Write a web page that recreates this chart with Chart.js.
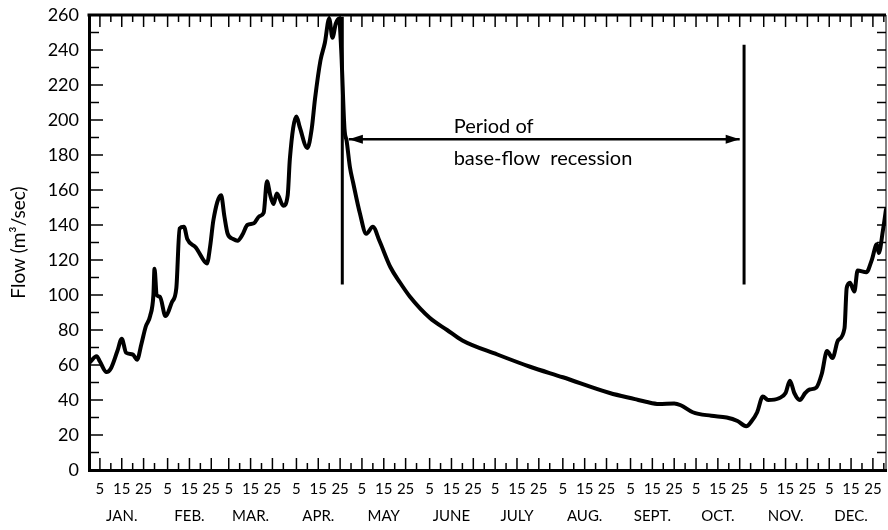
<!DOCTYPE html>
<html lang="en">
<head>
<meta charset="UTF-8">
<title>Base-flow recession hydrograph</title>
<script src="https://cdn.jsdelivr.net/npm/chart.js@4"></script>
<style>
  body { margin: 0; background: #fff; }
  #wrap { width: 888px; height: 530px; }
</style>
</head>
<body>
<div id="wrap"><canvas id="chart"></canvas></div>
<script>
// calendar
const months = ['JAN.', 'FEB.', 'MAR.', 'APR.', 'MAY', 'JUNE', 'JULY', 'AUG.', 'SEPT.', 'OCT.', 'NOV.', 'DEC.'];
const monthStart = [0, 31, 59, 90, 120, 151, 181, 212, 243, 273, 304, 334];
const monthLen = [31, 28, 31, 30, 31, 30, 31, 31, 30, 31, 30, 31];
const dayTicks = [5, 15, 25];

// daily flow (day of year, m3/sec)
const flowDays = [0, 3.5, 5, 8, 10, 13, 15, 17, 20, 22, 24, 26, 28, 29.5, 30, 31, 32.5, 35, 38, 40,
  41.5, 43.5, 45, 49, 53, 54, 55.5, 57, 60.5, 62, 63.5, 66, 68, 70.5, 72.5, 75.5, 78, 80, 81.5, 83,
  84.5, 86, 89, 91, 92, 95, 96.5, 100, 102, 103.5, 106, 108, 110, 111.5, 113, 114.5, 115.5, 117, 118, 119.5,
  121, 124, 127, 130, 133, 138, 142.5, 147, 156, 164, 171, 187, 202, 217, 238.5, 250,
  255, 261, 268, 271, 276.5, 285, 292, 297, 301, 303.5, 306, 308.6, 311, 316, 319, 321, 323, 325.5, 328, 330,
  333, 335.6, 338, 340.5, 343, 346, 347, 348.5, 350.5, 352, 356, 358.5, 360.8, 361.7, 363.6, 365];
const flowValues = [61, 65, 62, 56, 58, 68, 75, 67, 66, 63, 72, 82, 88, 100, 115, 100, 99, 88, 96, 104,
  138, 139, 132, 127, 119, 118, 128, 143, 157, 145, 135, 132, 131, 135, 140, 141, 145, 147, 165, 157,
  152, 158, 151, 157, 178, 202, 196, 184, 195, 212, 234, 244, 258, 247, 255, 258, 240, 195, 188, 173,
  164, 147, 135, 139, 131, 116, 107, 99, 87, 80, 74, 66, 59, 53, 44, 40.5,
  39, 37.7, 38, 37, 33, 31, 30, 28, 25, 28, 33, 42, 40, 41, 44, 51, 44, 40, 44, 46,
  47, 55, 68, 64, 74, 81, 104, 107, 102, 114, 113, 120, 129, 124, 137, 149];

// annotation marks
const markerDays = [116, 300];
const markerLow = [106, 106];
const markerHigh = [259, 243];
const arrowDays = [119, 298];
const arrowFlow = 189;
const noteDay = 167;
const noteFlow = [192.5, 174.5];
const noteLines = ['Period of', 'base-flow  recession'];

const FONT = 'Lato, "Open Sans", sans-serif';

const pts = (xs, ys) => xs.map((x, i) => ({ x: x, y: ys[i] }));

const datasets = [{
  data: pts(flowDays, flowValues),
  borderColor: '#000',
  borderWidth: 4,
  pointRadius: 0,
  cubicInterpolationMode: 'monotone',
  borderJoinStyle: 'round',
  borderCapStyle: 'round'
}];
markerDays.forEach((d, i) => {
  datasets.push({
    data: [{ x: d, y: markerLow[i] }, { x: d, y: markerHigh[i] }],
    borderColor: '#000', borderWidth: 3, pointRadius: 0
  });
});
datasets.push({
  data: [{ x: arrowDays[0], y: arrowFlow }, { x: arrowDays[1], y: arrowFlow }],
  borderColor: '#000', borderWidth: 2.5, pointRadius: 0
});

const extras = {
  id: 'extras',
  afterDatasetsDraw(chart) {
    const { ctx, chartArea: a, scales: { x, y } } = chart;
    const seg = (x1, y1, x2, y2) => { ctx.beginPath(); ctx.moveTo(x1, y1); ctx.lineTo(x2, y2); ctx.stroke(); };
    ctx.save();
    ctx.strokeStyle = '#000';
    ctx.fillStyle = '#000';

    // top frame and right frame
    ctx.lineWidth = 3;
    seg(a.left - 1.5, a.top, a.right, a.top);
    ctx.lineWidth = 1;
    seg(a.right, a.top, a.right, a.bottom);

    // day ticks, inside, bottom and top
    ctx.lineWidth = 1.5;
    monthStart.forEach((s, m) => {
      for (let d = 5; d <= monthLen[m]; d += 5) {
        const px = x.getPixelForValue(s + d);
        const len = d % 10 === 5 ? 12 : 7;
        seg(px, a.bottom, px, a.bottom - len);
        seg(px, a.top, px, a.top + len);
      }
    });

    // flow ticks, inside, left and right
    for (let v = 10; v < 260; v += 10) {
      const py = y.getPixelForValue(v);
      seg(a.left, py, a.left + (v % 20 === 0 ? 14 : 10), py);
      seg(a.right, py, a.right - 9, py);
    }

    // arrow heads
    const ay = y.getPixelForValue(arrowFlow);
    const l = x.getPixelForValue(arrowDays[0]);
    const r = x.getPixelForValue(arrowDays[1]);
    ctx.beginPath();
    ctx.moveTo(l, ay); ctx.lineTo(l + 14, ay - 4.5); ctx.lineTo(l + 14, ay + 4.5); ctx.closePath();
    ctx.fill();
    ctx.beginPath();
    ctx.moveTo(r, ay); ctx.lineTo(r - 14, ay - 4.5); ctx.lineTo(r - 14, ay + 4.5); ctx.closePath();
    ctx.fill();

    // note
    ctx.font = '20px ' + FONT;
    ctx.textAlign = 'left';
    ctx.textBaseline = 'alphabetic';
    noteLines.forEach((t, i) => {
      ctx.fillText(t, x.getPixelForValue(noteDay), y.getPixelForValue(noteFlow[i]));
    });
    ctx.restore();
  }
};

new Chart(document.getElementById('chart'), {
  type: 'line',
  data: { datasets: datasets },
  options: {
    responsive: true,
    maintainAspectRatio: false,
    animation: false,
    layout: { padding: { top: 15, right: 2, left: 0, bottom: 0 } },
    plugins: { legend: { display: false }, tooltip: { enabled: false } },
    scales: {
      x: {
        type: 'linear',
        min: 0,
        max: 365,
        grid: { display: false, drawTicks: false },
        border: { display: true, color: '#000', width: 3 },
        afterBuildTicks(scale) {
          scale.ticks = monthStart.flatMap(s => dayTicks.map(d => ({ value: s + d })));
        },
        afterFit(scale) {
          scale.height = 60;
          scale.paddingLeft = 0;
          scale.paddingRight = 0;
        },
        ticks: {
          autoSkip: false,
          maxRotation: 0,
          padding: 6,
          color: '#000',
          font: { family: FONT, size: 15, lineHeight: 1.8 },
          callback(value) {
            let m = 0;
            while (m < 11 && monthStart[m + 1] < value) m++;
            const d = value - monthStart[m];
            return d === 15 ? ['15', months[m]] : String(d);
          }
        }
      },
      y: {
        min: 0,
        max: 260,
        grid: { display: false, drawTicks: false },
        border: { display: true, color: '#000', width: 3 },
        afterFit(scale) {
          scale.width = 89;
          scale.paddingTop = 0;
          scale.paddingBottom = 0;
        },
        ticks: {
          stepSize: 20,
          padding: 10,
          color: '#000',
          font: { family: FONT, size: 18 }
        },
        title: {
          display: true,
          text: 'Flow (m³/sec)',
          color: '#000',
          padding: { top: 7, bottom: 0 },
          font: { family: FONT, size: 19, lineHeight: 1.2 }
        }
      }
    }
  },
  plugins: [extras]
});
</script>
</body>
</html>
